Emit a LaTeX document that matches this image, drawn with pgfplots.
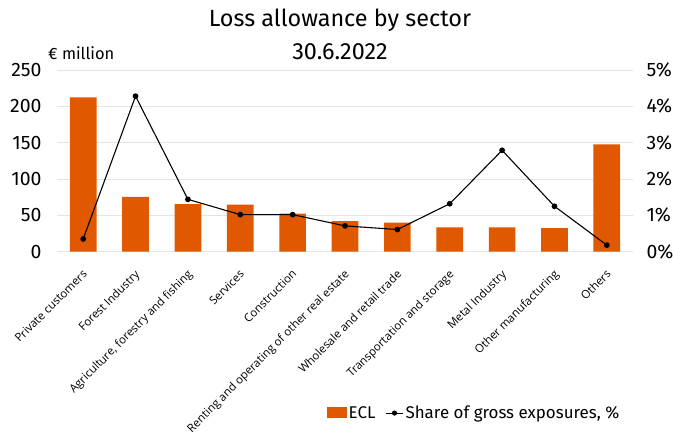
\documentclass[border=0pt]{standalone}
\usepackage{pgfplots}
\pgfplotsset{compat=1.18}
\usepackage{fontspec}
\setmainfont{Fira Sans}
\newfontfamily\labelfont{Open Sans}
\definecolor{oporange}{RGB}{224,88,0}
\definecolor{gridgray}{RGB}{228,228,228}
\begin{document}
\begin{tikzpicture}[x=1bp,y=1bp]
\path[use as bounding box] (-57,-180.3) rectangle (616,251.7);
\pgfplotsset{
  myaxis/.style={
    scale only axis, width=576bp, height=181.7bp,
    at={(0,0)}, anchor=south west,
    xmin=-0.5, xmax=10.5,
    axis line style={draw=none},
    major tick length=0pt,
    /pgf/number format/assume math mode=true,
    yticklabel style={font=\fontsize{19.5}{21}\selectfont},
  }
}
\begin{axis}[myaxis,
  ymin=0, ymax=250, ytick={0,50,100,150,200,250},
  ymajorgrids, grid style={gridgray, line width=0.8pt},
  yticklabel style={xshift=-12bp},
  xtick={0,...,10},
  xticklabels={Private customers, Forest Industry, {Agriculture, forestry and fishing}, Services, Construction, Renting and operating of other real estate, Wholesale and retail trade, Transportation and storage, Metal Industry, Other manufacturing, Others},
  xticklabel style={rotate=45, anchor=north east, font=\labelfont\fontsize{11.5}{13}\selectfont, inner sep=1pt, xshift=-12bp, yshift=-10bp},
  legend style={at={(0.724,-0.888)}, anchor=center, draw=none, fill=none, legend columns=2, font=\fontsize{17}{19}\selectfont, /tikz/every even column/.append style={column sep=8bp}},
  legend cell align=left,
]
\addplot[ybar, fill=oporange, draw=none, bar width=26.7bp,
  legend image code/.code={\fill[oporange] (0bp,-5bp) rectangle (20bp,6bp);}] coordinates {
(0,212.4) (1,75.3) (2,65.6) (3,64.7) (4,52.3) (5,42.2) (6,39.9) (7,33.6) (8,33.6) (9,32.6) (10,147.8)};
\addlegendentry{ECL}
\addlegendimage{black, line width=1.1pt, mark=*, mark size=2pt}
\addlegendentry{Share of gross exposures, \%}
\end{axis}
\begin{axis}[myaxis,
  ymin=0, ymax=5, ytick={0,1,2,3,4,5},
  axis y line*=right,
  xtick=\empty,
  yticklabel={\pgfmathprintnumber{\tick}\%},
  yticklabel style={xshift=10bp},
]
\addplot[black, line width=1.1pt, mark=*, mark size=2.3pt] coordinates {
(0,0.35) (1,4.28) (2,1.44) (3,1.02) (4,1.02) (5,0.71) (6,0.61) (7,1.32) (8,2.79) (9,1.25) (10,0.18)};
\end{axis}
\node[font=\fontsize{23.5}{28}\selectfont] at (283,231.7) {Loss allowance by sector};
\node[font=\fontsize{23.5}{28}\selectfont] at (283,199.7) {30.6.2022};
\node[font=\fontsize{16.5}{18}\selectfont, anchor=west, inner sep=0pt] at (-9,198.7) {€ million};
\end{tikzpicture}
\end{document}
